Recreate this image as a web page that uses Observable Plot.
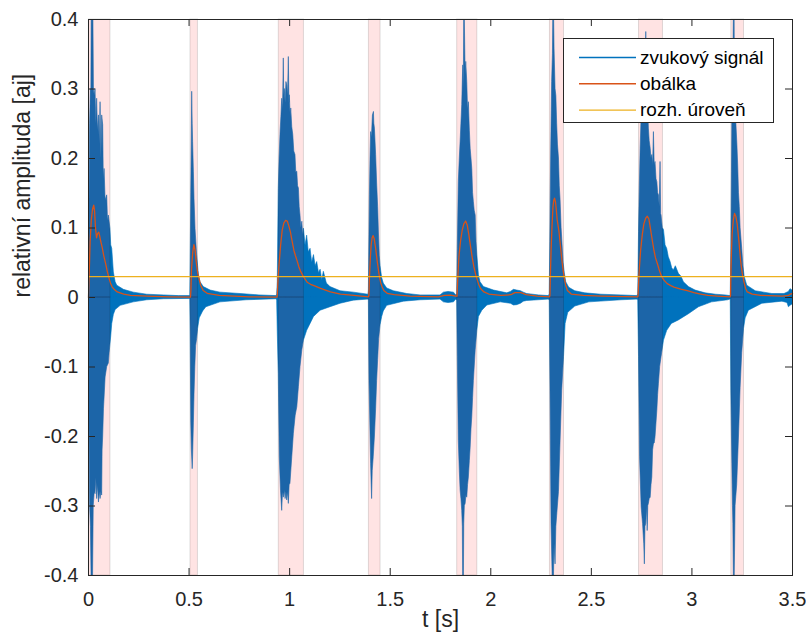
<!DOCTYPE html>
<html>
<head>
<meta charset="utf-8">
<script src="https://cdn.jsdelivr.net/npm/d3@7"></script>
<script src="https://cdn.jsdelivr.net/npm/@observablehq/plot@0.6"></script>
<style>
  html, body { margin: 0; padding: 0; background: #fff; }
  #wrap { position: relative; width: 806px; height: 641px; font-family: "Liberation Sans", Arial, Helvetica, sans-serif; }
  #legend { position: absolute; left: 563px; top: 38px; width: 209px; height: 83px; border: 1px solid #262626; background: #fff; }
  #legend svg { position: absolute; left: 0; top: 0; }
  #legend .lb { position: absolute; left: 76px; line-height: 26px; height: 26px; font-size: 19px; color: #000; white-space: nowrap; }
</style>
</head>
<body>
<div id="wrap"></div>
<script>
// ---- data ----
const xTicks = [0, 0.5, 1, 1.5, 2, 2.5, 3, 3.5];
const yTicks = [-0.4, -0.3, -0.2, -0.1, 0, 0.1, 0.2, 0.3, 0.4];
const xDomain = [0, 3.5];
const yDomain = [-0.4, 0.4];
const threshold = 0.03;

const legendLabels = ["zvukový signál", "obálka", "rozh. úroveň"];
const seriesColors = ["#0072BD", "#D95319", "#EDB120"];

const bandStart = [0.002, 0.507, 0.946, 1.394, 1.833, 2.294, 2.737, 3.196];
const bandEnd   = [0.109, 0.544, 1.071, 1.452, 1.933, 2.364, 2.856, 3.259];

// upper extent of the sound signal [t, value]
const signalUpper = [
  [0.000,0.04],[0.004,0.10],[0.008,0.25],[0.012,0.30],[0.014,0.28],[0.016,0.42],[0.024,0.42],[0.027,0.30],[0.031,0.29],[0.035,0.30],[0.039,0.25],[0.043,0.286],[0.047,0.24],[0.052,0.262],[0.056,0.22],[0.060,0.281],[0.064,0.20],[0.068,0.262],[0.073,0.248],[0.076,0.17],[0.080,0.185],[0.085,0.14],[0.093,0.147],[0.097,0.11],[0.101,0.118],[0.109,0.099],[0.113,0.075],[0.118,0.070],[0.126,0.036],[0.135,0.022],[0.143,0.017],[0.176,0.011],[0.225,0.007],[0.292,0.004],[0.375,0.003],[0.45,0.002],[0.506,0.002],
  [0.508,0.05],[0.511,0.15],[0.5135,0.22],[0.5155,0.296],[0.518,0.25],[0.520,0.224],[0.524,0.18],[0.527,0.142],[0.532,0.099],[0.536,0.08],[0.540,0.061],[0.545,0.045],[0.549,0.032],[0.557,0.022],[0.573,0.015],[0.607,0.010],[0.656,0.007],[0.756,0.005],[0.85,0.003],[0.936,0.002],
  [0.938,0.005],[0.941,0.022],[0.946,0.156],[0.950,0.20],[0.955,0.238],[0.959,0.26],[0.963,0.286],[0.967,0.27],[0.971,0.344],[0.973,0.29],[0.976,0.30],[0.980,0.28],[0.984,0.31],[0.988,0.305],[0.992,0.29],[0.996,0.346],[0.999,0.28],[1.001,0.291],[1.005,0.26],[1.008,0.272],[1.013,0.245],[1.018,0.234],[1.023,0.21],[1.029,0.205],[1.033,0.18],[1.038,0.181],[1.042,0.16],[1.046,0.157],[1.050,0.13],[1.054,0.118],[1.058,0.10],[1.063,0.109],[1.067,0.09],[1.071,0.099],[1.079,0.075],[1.087,0.089],[1.095,0.065],[1.104,0.070],[1.112,0.05],[1.121,0.061],[1.129,0.045],[1.137,0.051],[1.146,0.035],[1.154,0.04],[1.162,0.025],[1.170,0.037],[1.185,0.02],[1.203,0.015],[1.253,0.009],[1.319,0.007],[1.392,0.004],
  [1.394,0.01],[1.399,0.147],[1.402,0.20],[1.405,0.238],[1.409,0.23],[1.414,0.262],[1.419,0.267],[1.421,0.25],[1.424,0.243],[1.430,0.205],[1.435,0.164],[1.440,0.13],[1.444,0.092],[1.448,0.06],[1.452,0.045],[1.460,0.028],[1.468,0.02],[1.485,0.013],[1.518,0.009],[1.585,0.005],[1.651,0.003],[1.750,0.003],[1.767,0.007],[1.79,0.008],[1.817,0.007],[1.828,0.003],
  [1.833,0.005],[1.836,0.07],[1.841,0.166],[1.846,0.20],[1.850,0.224],[1.854,0.25],[1.858,0.277],[1.863,0.334],[1.866,0.30],[1.868,0.42],[1.870,0.42],[1.873,0.358],[1.875,0.32],[1.878,0.339],[1.883,0.31],[1.887,0.27],[1.891,0.281],[1.896,0.24],[1.900,0.214],[1.904,0.20],[1.908,0.185],[1.912,0.15],[1.916,0.137],[1.920,0.125],[1.925,0.118],[1.929,0.08],[1.933,0.061],[1.941,0.032],[1.949,0.022],[1.966,0.015],[2.016,0.010],[2.082,0.006],[2.10,0.008],[2.115,0.011],[2.131,0.010],[2.150,0.009],[2.164,0.007],[2.181,0.005],[2.24,0.003],[2.29,0.002],
  [2.293,0.005],[2.296,0.08],[2.300,0.20],[2.305,0.31],[2.309,0.35],[2.311,0.42],[2.314,0.42],[2.317,0.358],[2.322,0.30],[2.326,0.29],[2.330,0.25],[2.334,0.22],[2.339,0.20],[2.343,0.16],[2.347,0.14],[2.352,0.10],[2.357,0.075],[2.362,0.05],[2.368,0.035],[2.375,0.022],[2.39,0.014],[2.42,0.009],[2.47,0.006],[2.55,0.004],[2.65,0.003],[2.73,0.002],
  [2.733,0.005],[2.737,0.094],[2.741,0.16],[2.745,0.214],[2.750,0.262],[2.753,0.25],[2.757,0.286],[2.761,0.30],[2.766,0.349],[2.769,0.32],[2.773,0.382],[2.776,0.33],[2.780,0.31],[2.783,0.27],[2.786,0.243],[2.790,0.225],[2.795,0.214],[2.799,0.20],[2.803,0.205],[2.807,0.19],[2.811,0.238],[2.815,0.19],[2.819,0.195],[2.824,0.17],[2.828,0.166],[2.832,0.15],[2.836,0.147],[2.840,0.13],[2.844,0.195],[2.847,0.12],[2.849,0.118],[2.855,0.10],[2.861,0.097],[2.869,0.075],[2.877,0.070],[2.885,0.058],[2.894,0.051],[2.902,0.042],[2.910,0.039],[2.92,0.045],[2.935,0.034],[2.948,0.03],[2.960,0.022],[2.985,0.015],[3.018,0.010],[3.068,0.006],[3.12,0.004],[3.167,0.003],[3.191,0.002],
  [3.193,0.003],[3.196,0.07],[3.199,0.18],[3.201,0.262],[3.204,0.30],[3.206,0.334],[3.209,0.42],[3.212,0.42],[3.214,0.30],[3.217,0.262],[3.221,0.25],[3.226,0.22],[3.230,0.19],[3.234,0.15],[3.238,0.13],[3.242,0.10],[3.250,0.07],[3.256,0.045],[3.262,0.03],[3.275,0.017],[3.317,0.009],[3.400,0.005],[3.46,0.005],[3.482,0.008],[3.49,0.012],[3.5,0.010]
];

// lower extent of the sound signal [t, value]
const signalLower = [
  [0.000,-0.04],[0.004,-0.15],[0.008,-0.30],[0.012,-0.33],[0.016,-0.42],[0.022,-0.42],[0.026,-0.30],[0.031,-0.28],[0.035,-0.283],[0.039,-0.26],[0.043,-0.29],[0.047,-0.27],[0.052,-0.295],[0.056,-0.28],[0.060,-0.29],[0.064,-0.28],[0.068,-0.285],[0.070,-0.22],[0.073,-0.20],[0.077,-0.16],[0.080,-0.144],[0.085,-0.115],[0.093,-0.10],[0.101,-0.095],[0.105,-0.080],[0.113,-0.056],[0.118,-0.038],[0.126,-0.025],[0.135,-0.018],[0.16,-0.012],[0.225,-0.007],[0.292,-0.004],[0.375,-0.0025],[0.506,-0.002],
  [0.508,-0.05],[0.511,-0.18],[0.514,-0.22],[0.518,-0.247],[0.520,-0.23],[0.524,-0.18],[0.527,-0.14],[0.531,-0.10],[0.535,-0.07],[0.540,-0.06],[0.545,-0.045],[0.553,-0.03],[0.57,-0.02],[0.586,-0.014],[0.656,-0.007],[0.786,-0.004],[0.936,-0.0025],
  [0.938,-0.005],[0.941,-0.05],[0.946,-0.11],[0.951,-0.23],[0.957,-0.278],[0.963,-0.307],[0.967,-0.28],[0.971,-0.288],[0.976,-0.278],[0.980,-0.29],[0.984,-0.28],[0.988,-0.292],[0.992,-0.28],[0.996,-0.297],[1.000,-0.27],[1.004,-0.268],[1.013,-0.23],[1.021,-0.196],[1.030,-0.17],[1.038,-0.158],[1.046,-0.129],[1.054,-0.10],[1.063,-0.076],[1.071,-0.062],[1.087,-0.048],[1.104,-0.038],[1.121,-0.028],[1.154,-0.019],[1.203,-0.014],[1.253,-0.009],[1.319,-0.0045],[1.392,-0.003],
  [1.394,-0.005],[1.397,-0.12],[1.401,-0.18],[1.405,-0.24],[1.408,-0.27],[1.410,-0.29],[1.413,-0.25],[1.418,-0.23],[1.424,-0.20],[1.430,-0.16],[1.435,-0.12],[1.440,-0.09],[1.445,-0.06],[1.452,-0.04],[1.46,-0.028],[1.468,-0.02],[1.485,-0.012],[1.568,-0.006],[1.651,-0.004],[1.750,-0.003],[1.767,-0.007],[1.79,-0.008],[1.817,-0.007],[1.828,-0.003],
  [1.833,-0.005],[1.836,-0.086],[1.841,-0.206],[1.846,-0.25],[1.850,-0.278],[1.854,-0.29],[1.858,-0.307],[1.861,-0.33],[1.863,-0.42],[1.866,-0.42],[1.868,-0.326],[1.871,-0.30],[1.875,-0.297],[1.879,-0.285],[1.883,-0.288],[1.887,-0.27],[1.891,-0.259],[1.896,-0.235],[1.900,-0.216],[1.904,-0.19],[1.908,-0.172],[1.912,-0.145],[1.916,-0.12],[1.925,-0.076],[1.933,-0.048],[1.941,-0.028],[1.958,-0.019],[1.983,-0.0115],[2.049,-0.007],[2.10,-0.009],[2.115,-0.0115],[2.131,-0.011],[2.150,-0.009],[2.164,-0.006],[2.181,-0.005],[2.29,-0.003],
  [2.293,-0.005],[2.297,-0.134],[2.302,-0.326],[2.306,-0.38],[2.309,-0.42],[2.313,-0.42],[2.317,-0.355],[2.322,-0.384],[2.326,-0.33],[2.331,-0.31],[2.339,-0.28],[2.347,-0.206],[2.355,-0.134],[2.364,-0.086],[2.372,-0.038],[2.385,-0.022],[2.42,-0.013],[2.49,-0.007],[2.65,-0.004],[2.73,-0.003],
  [2.733,-0.005],[2.737,-0.086],[2.742,-0.23],[2.750,-0.302],[2.757,-0.326],[2.763,-0.355],[2.766,-0.384],[2.769,-0.33],[2.773,-0.326],[2.777,-0.30],[2.780,-0.336],[2.783,-0.30],[2.786,-0.297],[2.790,-0.29],[2.795,-0.288],[2.799,-0.27],[2.803,-0.259],[2.807,-0.22],[2.811,-0.211],[2.815,-0.21],[2.819,-0.201],[2.824,-0.18],[2.828,-0.163],[2.832,-0.14],[2.836,-0.124],[2.842,-0.10],[2.849,-0.086],[2.861,-0.062],[2.877,-0.048],[2.90,-0.038],[2.935,-0.033],[2.985,-0.024],[3.035,-0.014],[3.10,-0.007],[3.18,-0.004],[3.191,-0.003],
  [3.193,-0.003],[3.196,-0.134],[3.199,-0.20],[3.201,-0.24],[3.204,-0.30],[3.206,-0.326],[3.209,-0.42],[3.212,-0.42],[3.215,-0.35],[3.217,-0.30],[3.225,-0.27],[3.234,-0.20],[3.242,-0.13],[3.250,-0.08],[3.259,-0.045],[3.267,-0.03],[3.283,-0.019],[3.35,-0.009],[3.45,-0.006],[3.475,-0.008],[3.482,-0.014],[3.49,-0.012],[3.5,-0.010]
];

// envelope [t, value]
const envelope = [
  [0.000,0.0],[0.003,0.03],[0.008,0.080],[0.014,0.112],[0.020,0.127],[0.026,0.133],[0.030,0.125],[0.035,0.099],[0.040,0.086],[0.045,0.092],[0.051,0.094],[0.056,0.088],[0.060,0.082],[0.068,0.072],[0.076,0.060],[0.085,0.049],[0.093,0.038],[0.101,0.029],[0.109,0.021],[0.118,0.015],[0.130,0.011],[0.143,0.008],[0.175,0.005],[0.209,0.003],[0.292,0.002],[0.40,0.001],[0.507,0.0005],
  [0.509,0.01],[0.512,0.04],[0.518,0.065],[0.524,0.076],[0.530,0.068],[0.536,0.05],[0.543,0.035],[0.549,0.028],[0.557,0.018],[0.570,0.010],[0.590,0.006],[0.65,0.003],[0.80,0.001],[0.937,0.0005],
  [0.939,0.005],[0.942,0.025],[0.946,0.042],[0.955,0.075],[0.963,0.097],[0.971,0.107],[0.980,0.111],[0.988,0.110],[0.996,0.103],[1.004,0.094],[1.013,0.080],[1.021,0.068],[1.029,0.060],[1.038,0.052],[1.046,0.044],[1.054,0.038],[1.063,0.033],[1.071,0.029],[1.087,0.022],[1.104,0.019],[1.121,0.017],[1.154,0.013],[1.203,0.008],[1.253,0.005],[1.32,0.003],[1.392,0.001],
  [1.394,0.003],[1.397,0.03],[1.401,0.055],[1.405,0.075],[1.410,0.086],[1.415,0.089],[1.420,0.085],[1.427,0.072],[1.435,0.053],[1.444,0.034],[1.452,0.022],[1.460,0.015],[1.468,0.010],[1.485,0.006],[1.52,0.004],[1.60,0.002],[1.74,0.001],[1.77,0.003],[1.80,0.0035],[1.825,0.002],
  [1.832,0.002],[1.837,0.035],[1.842,0.060],[1.850,0.082],[1.858,0.097],[1.866,0.106],[1.875,0.110],[1.883,0.104],[1.891,0.090],[1.900,0.072],[1.908,0.057],[1.916,0.044],[1.925,0.033],[1.933,0.025],[1.941,0.018],[1.949,0.013],[1.966,0.008],[1.99,0.005],[2.05,0.003],[2.10,0.004],[2.12,0.007],[2.15,0.007],[2.175,0.004],[2.23,0.002],[2.292,0.001],
  [2.294,0.003],[2.297,0.04],[2.300,0.07],[2.304,0.10],[2.309,0.13],[2.313,0.140],[2.317,0.143],[2.322,0.137],[2.326,0.125],[2.330,0.112],[2.339,0.095],[2.347,0.072],[2.355,0.05],[2.364,0.030],[2.372,0.018],[2.381,0.010],[2.40,0.005],[2.46,0.003],[2.55,0.002],[2.73,0.001],
  [2.732,0.002],[2.737,0.035],[2.745,0.068],[2.753,0.090],[2.761,0.106],[2.770,0.114],[2.778,0.117],[2.786,0.113],[2.795,0.097],[2.803,0.082],[2.811,0.068],[2.819,0.057],[2.828,0.049],[2.836,0.041],[2.844,0.034],[2.852,0.029],[2.861,0.025],[2.877,0.020],[2.895,0.017],[2.911,0.015],[2.944,0.012],[2.977,0.010],[3.01,0.007],[3.043,0.005],[3.08,0.003],[3.126,0.002],[3.19,0.001],
  [3.192,0.003],[3.194,0.04],[3.197,0.07],[3.200,0.092],[3.206,0.112],[3.212,0.121],[3.218,0.117],[3.225,0.106],[3.234,0.08],[3.242,0.053],[3.250,0.035],[3.259,0.022],[3.267,0.013],[3.275,0.008],[3.30,0.005],[3.342,0.003],[3.45,0.002],[3.48,0.003],[3.49,0.005],[3.5,0.006]
];

// ---- build ----
const axisColor = "#262626";
const fmtY = d => d === 0 ? "0" : d.toFixed(1);
const fmtX = d => String(d);
const bands = [];
bandStart.forEach((s, i) => {
  bands.push({x1: s, x2: bandEnd[i], y1: yDomain[0], y2: 0});
  bands.push({x1: s, x2: bandEnd[i], y1: 0, y2: yDomain[1]});
});
const W = 806, H = 641, mL = 88, mR = 14, mT = 19, mB = 66;
const frameH = H - mT - mB, frameW = W - mL - mR, tickLen = 7;

const chart = Plot.plot({
  width: W, height: H,
  marginLeft: mL, marginRight: mR, marginTop: mT, marginBottom: mB,
  x: {domain: xDomain},
  y: {domain: yDomain},
  style: {fontFamily: "'Liberation Sans', Arial, Helvetica, sans-serif", fontSize: "20px", color: axisColor, background: "#fff", overflow: "visible"},
  marks: [
    Plot.areaY(signalUpper, {x: d => d[0], y1: 0, y2: d => d[1], fill: seriesColors[0], stroke: seriesColors[0], strokeWidth: 0.6, clip: true}),
    Plot.areaY(signalLower, {x: d => d[0], y1: d => d[1], y2: 0, fill: seriesColors[0], stroke: seriesColors[0], strokeWidth: 0.6, clip: true}),
    Plot.rect(bands, {x1: "x1", x2: "x2", y1: "y1", y2: "y2", fill: "#ff0000", fillOpacity: 0.11, stroke: "#000", strokeOpacity: 0.13, strokeWidth: 1}),
    Plot.line(envelope, {x: d => d[0], y: d => d[1], stroke: seriesColors[1], strokeWidth: 1.3}),
    Plot.ruleY([threshold], {stroke: seriesColors[2], strokeWidth: 1.3}),
    Plot.frame({stroke: axisColor, strokeWidth: 1}),
    Plot.tickX(xTicks, {x: d => d, insetTop: frameH - tickLen, stroke: axisColor}),
    Plot.tickX(xTicks, {x: d => d, insetBottom: frameH - tickLen, stroke: axisColor}),
    Plot.tickY(yTicks, {y: d => d, insetRight: frameW - tickLen, stroke: axisColor}),
    Plot.tickY(yTicks, {y: d => d, insetLeft: frameW - tickLen, stroke: axisColor}),
    Plot.axisX({ticks: xTicks, tickSize: 0, tickPadding: 16, tickFormat: fmtX, label: null, fill: axisColor}),
    Plot.axisY({ticks: yTicks, tickSize: 0, tickPadding: 10, tickFormat: fmtY, label: null, fill: axisColor}),
    Plot.text(["relativní amplituda [aj]"], {text: d => d, frameAnchor: "left", dx: -66, rotate: -90, fontSize: 23, fill: axisColor}),
    Plot.text(["t [s]"], {text: d => d, frameAnchor: "bottom", dy: 51, fontSize: 23, fill: axisColor})
  ]
});

const wrap = document.getElementById("wrap");
wrap.appendChild(chart);

// legend
const legend = d3.select(wrap).append("div").attr("id", "legend");
const lsvg = legend.append("svg").attr("width", 209).attr("height", 83);
legendLabels.forEach((lab, i) => {
  const cy = 18.5 + i * 26.3;
  lsvg.append("line").attr("x1", 15).attr("x2", 72).attr("y1", cy).attr("y2", cy)
    .attr("stroke", seriesColors[i]).attr("stroke-width", 1.4);
  legend.append("div").attr("class", "lb").style("top", (cy - 13) + "px").text(lab);
});
</script>
</body>
</html>
